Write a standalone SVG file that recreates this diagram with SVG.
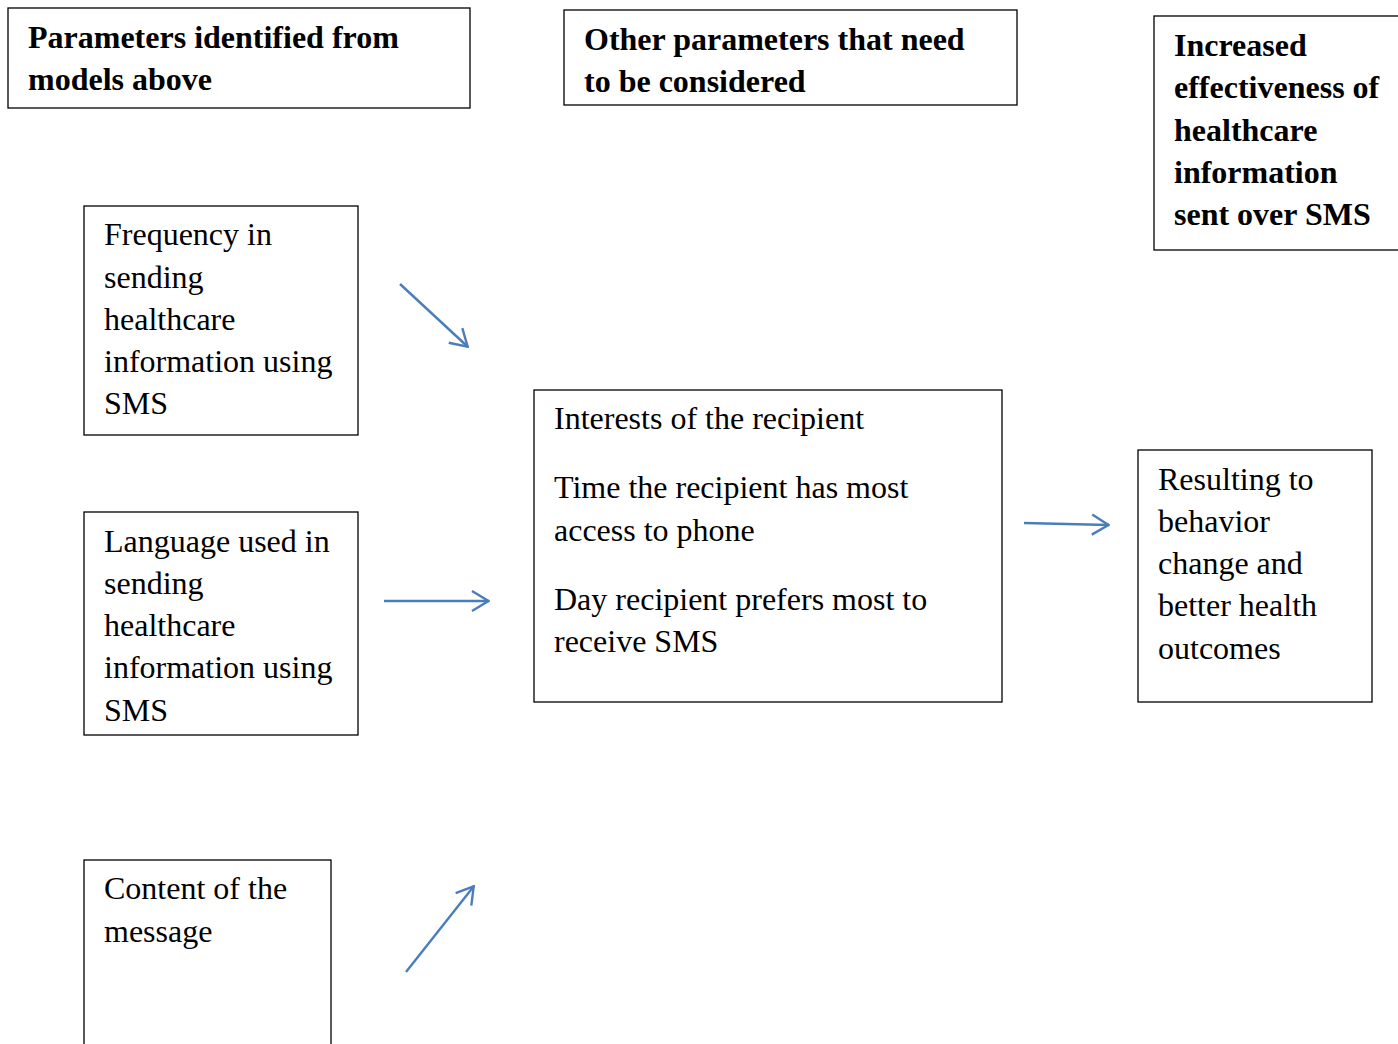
<svg xmlns="http://www.w3.org/2000/svg" width="1398" height="1044" viewBox="0 0 1398 1044">
<style>
.box{fill:#fff;stroke:#000;stroke-width:1.3}
.t{font-family:"Liberation Serif","Times New Roman",serif;font-size:32px;fill:#000}
.b{font-weight:bold}
.c{stroke:#4a7ebb;stroke-width:2.4;fill:none;marker-end:url(#ah)}
</style>
<defs>
<marker id="ah" viewBox="0 0 20 24" refX="19" refY="12" markerWidth="20" markerHeight="24" markerUnits="userSpaceOnUse" orient="auto">
<path d="M2,2 L18.5,12 L2,22" fill="none" stroke="#4a7ebb" stroke-width="2.4"/>
</marker>
</defs>
<rect width="1398" height="1044" fill="#fff"/>
<g id="hdr1"><rect class="box" x="8" y="8" width="462" height="100"/>
<text class="t b"><tspan x="28" y="48">Parameters identified from</tspan><tspan x="28" y="90">models above</tspan></text></g>
<g id="hdr2"><rect class="box" x="564" y="10" width="453" height="95"/>
<text class="t b"><tspan x="584" y="50">Other parameters that need</tspan><tspan x="584" y="92">to be considered</tspan></text></g>
<g id="hdr3"><rect class="box" x="1154" y="16" width="260" height="234"/>
<text class="t b"><tspan x="1174" y="56">Increased</tspan><tspan x="1174" y="98">effectiveness of</tspan><tspan x="1174" y="141">healthcare</tspan><tspan x="1174" y="183">information</tspan><tspan x="1174" y="225">sent over SMS</tspan></text></g>
<g id="freq"><rect class="box" x="84" y="206" width="274" height="229"/>
<text class="t"><tspan x="104" y="245">Frequency in</tspan><tspan x="104" y="288">sending</tspan><tspan x="104" y="330">healthcare</tspan><tspan x="104" y="372">information using</tspan><tspan x="104" y="414">SMS</tspan></text></g>
<g id="lang"><rect class="box" x="84" y="512" width="274" height="223"/>
<text class="t"><tspan x="104" y="552">Language used in</tspan><tspan x="104" y="594">sending</tspan><tspan x="104" y="636">healthcare</tspan><tspan x="104" y="678">information using</tspan><tspan x="104" y="721">SMS</tspan></text></g>
<g id="content"><rect class="box" x="84" y="860" width="247" height="200"/>
<text class="t"><tspan x="104" y="899">Content of the</tspan><tspan x="104" y="942">message</tspan></text></g>
<g id="middle"><rect class="box" x="534" y="390" width="468" height="312"/>
<text class="t"><tspan x="554" y="429">Interests of the recipient</tspan><tspan x="554" y="498">Time the recipient has most</tspan><tspan x="554" y="541">access to phone</tspan><tspan x="554" y="610">Day recipient prefers most to</tspan><tspan x="554" y="652">receive SMS</tspan></text></g>
<g id="result"><rect class="box" x="1138" y="450" width="234" height="252"/>
<text class="t"><tspan x="1158" y="490">Resulting to</tspan><tspan x="1158" y="532">behavior</tspan><tspan x="1158" y="574">change and</tspan><tspan x="1158" y="616">better health</tspan><tspan x="1158" y="659">outcomes</tspan></text></g>
<g id="connectors">
<line class="c" x1="400" y1="284" x2="468" y2="347"/>
<line class="c" x1="384" y1="601" x2="489" y2="601"/>
<line class="c" x1="406" y1="972" x2="474" y2="886"/>
<line class="c" x1="1024" y1="523" x2="1109" y2="525"/>
</g>
</svg>
